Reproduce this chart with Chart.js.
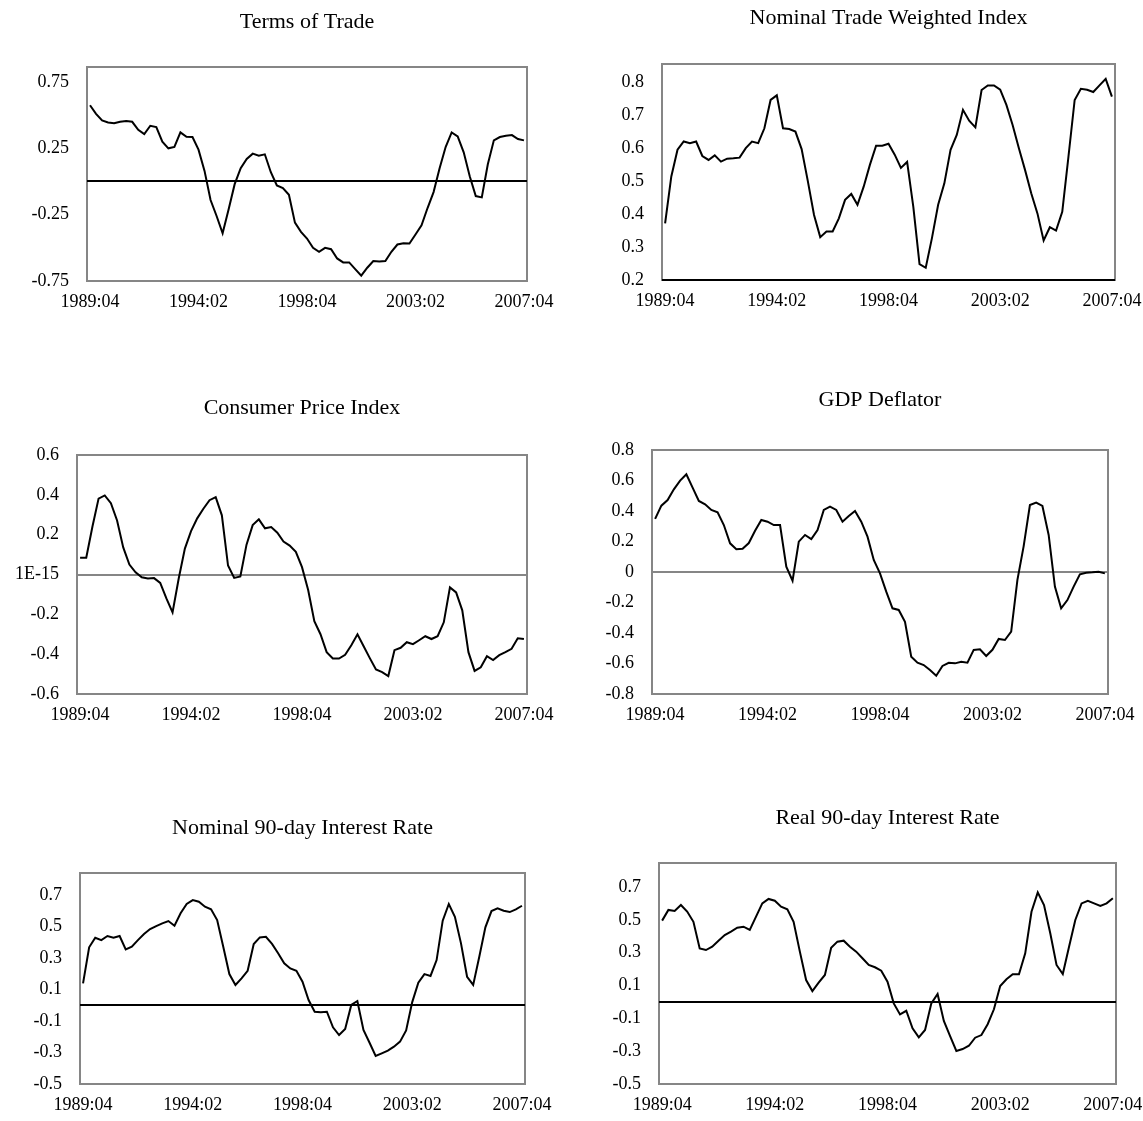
<!DOCTYPE html>
<html>
<head>
<meta charset="utf-8">
<script src="https://cdn.jsdelivr.net/npm/chart.js@4.4.1/dist/chart.umd.min.js"></script>
<style>
  html, body { margin: 0; padding: 0; background: #fff; overflow: hidden; }
  canvas.panel { position: absolute; }
</style>
</head>
<body>
<script>
// quarterly categories 1989:04 .. 2007:04
const quarters = [];
for (let y = 1989; y <= 2007; y++) {
  for (let q = 1; q <= 4; q++) {
    if (y === 1989 && q < 4) continue;
    quarters.push(y + ':0' + q);
  }
}
const shownLabels = ['1989:04', '1994:02', '1998:04', '2003:02', '2007:04'];

const termsOfTrade = [
  0.575, 0.51, 0.46, 0.445, 0.44, 0.45, 0.455, 0.45, 0.39, 0.357,
  0.42, 0.41, 0.30, 0.25, 0.26, 0.37, 0.337, 0.335, 0.24, 0.08,
  -0.14, -0.26, -0.39, -0.21, -0.02, 0.10, 0.17, 0.21, 0.195, 0.205,
  0.07, -0.03, -0.05, -0.10, -0.31, -0.38, -0.43, -0.50, -0.53, -0.50,
  -0.51, -0.58, -0.61, -0.61, -0.66, -0.71, -0.65, -0.60, -0.603, -0.60,
  -0.53, -0.475, -0.465, -0.468, -0.40, -0.33, -0.20, -0.08, 0.10, 0.26,
  0.37, 0.34, 0.22, 0.04, -0.11, -0.12, 0.13, 0.31, 0.335, 0.345,
  0.35, 0.32, 0.31
];
const tradeWeighted = [
  0.372, 0.514, 0.595, 0.62, 0.615, 0.62, 0.576, 0.564, 0.578, 0.559,
  0.568, 0.569, 0.571, 0.60, 0.62, 0.615, 0.66, 0.746, 0.76, 0.66,
  0.658, 0.65, 0.597, 0.50, 0.397, 0.33, 0.347, 0.347, 0.387, 0.443,
  0.461, 0.428, 0.483, 0.549, 0.607, 0.607, 0.613, 0.58, 0.54, 0.558,
  0.422, 0.248, 0.237, 0.327, 0.428, 0.493, 0.595, 0.64, 0.716, 0.683,
  0.663, 0.776, 0.79, 0.79, 0.777, 0.731, 0.67, 0.60, 0.534, 0.463,
  0.402, 0.32, 0.36, 0.35, 0.407, 0.574, 0.746, 0.78, 0.777, 0.77,
  0.79, 0.81, 0.756
];
const consumerPrices = [
  0.084, 0.084, 0.24, 0.381, 0.397, 0.358, 0.271, 0.136, 0.05, 0.011,
  -0.014, -0.02, -0.018, -0.042, -0.12, -0.19, -0.02, 0.13, 0.218, 0.282,
  0.33, 0.373, 0.388, 0.297, 0.045, -0.017, -0.01, 0.15, 0.248, 0.277,
  0.232, 0.238, 0.21, 0.165, 0.145, 0.114, 0.037, -0.078, -0.234, -0.30,
  -0.39, -0.422, -0.422, -0.403, -0.355, -0.30, -0.36, -0.42, -0.477, -0.49,
  -0.51, -0.38, -0.368, -0.34, -0.35, -0.33, -0.31, -0.324, -0.31, -0.24,
  -0.065, -0.09, -0.18, -0.39, -0.484, -0.466, -0.41, -0.43, -0.405, -0.39,
  -0.373, -0.32, -0.324
];
const gdpDeflator = [
  0.348, 0.435, 0.472, 0.542, 0.599, 0.641, 0.553, 0.466, 0.444, 0.407,
  0.391, 0.308, 0.188, 0.149, 0.153, 0.19, 0.27, 0.341, 0.33, 0.308,
  0.308, 0.035, -0.057, 0.199, 0.243, 0.216, 0.275, 0.407, 0.428, 0.407,
  0.33, 0.367, 0.40, 0.33, 0.232, 0.079, -0.009, -0.129, -0.238, -0.249,
  -0.326, -0.555, -0.595, -0.61, -0.643, -0.68, -0.616, -0.595, -0.599, -0.588,
  -0.595, -0.511, -0.507, -0.551, -0.51, -0.439, -0.446, -0.391, -0.052, 0.17,
  0.439, 0.455, 0.433, 0.243, -0.096, -0.238, -0.184, -0.096, -0.015, -0.005,
  -0.002, 0.002, -0.009
];
const nominalRate = [
  0.139, 0.368, 0.429, 0.414, 0.44, 0.429, 0.44, 0.355, 0.372, 0.414,
  0.452, 0.484, 0.503, 0.52, 0.535, 0.505, 0.584, 0.643, 0.668, 0.658,
  0.626, 0.609, 0.541, 0.372, 0.198, 0.129, 0.171, 0.219, 0.389, 0.431,
  0.435, 0.39, 0.33, 0.266, 0.234, 0.219, 0.15, 0.033, -0.041, -0.045,
  -0.041, -0.14, -0.189, -0.151, 0.002, 0.027, -0.157, -0.238, -0.322, -0.305,
  -0.288, -0.263, -0.231, -0.16, 0.02, 0.143, 0.198, 0.186, 0.287, 0.537,
  0.643, 0.562, 0.393, 0.181, 0.129, 0.308, 0.495, 0.598, 0.615, 0.60,
  0.592, 0.609, 0.632
];
const realRate = [
  0.495, 0.56, 0.554, 0.59, 0.55, 0.488, 0.326, 0.316, 0.336, 0.373,
  0.407, 0.428, 0.452, 0.458, 0.438, 0.519, 0.60, 0.627, 0.616, 0.58,
  0.564, 0.488, 0.306, 0.133, 0.066, 0.117, 0.164, 0.33, 0.367, 0.373,
  0.336, 0.306, 0.266, 0.225, 0.211, 0.19, 0.123, -0.009, -0.076, -0.054,
  -0.161, -0.216, -0.171, -0.009, 0.048, -0.116, -0.208, -0.299, -0.287, -0.267,
  -0.218, -0.202, -0.136, -0.045, 0.097, 0.138, 0.168, 0.168, 0.296, 0.549,
  0.667, 0.59, 0.418, 0.225, 0.17, 0.336, 0.499, 0.60, 0.616, 0.60,
  0.584, 0.60, 0.631
];

const totTicks = [-0.75, -0.25, 0.25, 0.75];
const twiTicks = [0.2, 0.3, 0.4, 0.5, 0.6, 0.7, 0.8];
const cpiTicks = [-0.6, -0.4, -0.2, 0, 0.2, 0.4, 0.6];
const gdpTicks = [-0.8, -0.6, -0.4, -0.2, 0, 0.2, 0.4, 0.6, 0.8];
const rateTicks = [-0.5, -0.3, -0.1, 0.1, 0.3, 0.5, 0.7];

const GRAY = '#868686';
const LEFT = 75, TOP = 60, RIGHT = 40, BOTTOM = 35;
const TICK_SIZE = 18, TITLE_SIZE = 22;

Chart.defaults.font.family = '"Liberation Serif", "DejaVu Serif", serif';
Chart.defaults.color = '#000';

const panels = [
  { title: 'Terms of Trade', data: termsOfTrade, box: [87, 67, 527, 281], titleGap: 45,
    min: -0.75, max: 0.863, ticks: totTicks, dec: 2, axisAt: 0, axisColor: '#000' },
  { title: 'Nominal Trade Weighted Index', data: tradeWeighted, box: [662, 64, 1115, 280], titleGap: 46,
    min: 0.2, max: 0.855, ticks: twiTicks, dec: 1, axisAt: 0.2, axisColor: '#000' },
  { title: 'Consumer Price Index', data: consumerPrices, box: [77, 455, 527, 694], titleGap: 47,
    min: -0.6, max: 0.6, ticks: cpiTicks, dec: 1, zeroText: '1E-15', axisAt: 0, axisColor: GRAY },
  { title: 'GDP Deflator', data: gdpDeflator, box: [652, 450, 1108, 694], titleGap: 50,
    min: -0.8, max: 0.8, ticks: gdpTicks, dec: 1, zeroText: '0', axisAt: 0, axisColor: GRAY },
  { title: 'Nominal 90-day Interest Rate', data: nominalRate, box: [80, 873, 525, 1084], titleGap: 45,
    min: -0.5, max: 0.84, ticks: rateTicks, dec: 1, axisAt: 0, axisColor: '#000' },
  { title: 'Real 90-day Interest Rate', data: realRate, box: [659, 863, 1116, 1084], titleGap: 45,
    min: -0.5, max: 0.846, ticks: rateTicks, dec: 1, axisAt: 0, axisColor: '#000' }
];

// grey frame round the plot area, drawn under the axis line and the series
const plotFrame = {
  id: 'plotFrame',
  beforeDraw(chart) {
    const { ctx, chartArea: a } = chart;
    ctx.save();
    ctx.strokeStyle = GRAY;
    ctx.lineWidth = 2;
    ctx.strokeRect(a.left, a.top, a.right - a.left, a.bottom - a.top);
    ctx.restore();
  }
};

function makePanel(p) {
  const w = p.box[2] - p.box[0] + LEFT + RIGHT;
  const h = p.box[3] - p.box[1] + TOP + BOTTOM;
  const canvas = document.createElement('canvas');
  canvas.className = 'panel';
  canvas.width = w;
  canvas.height = h;
  canvas.style.left = (p.box[0] - LEFT) + 'px';
  canvas.style.top = (p.box[1] - TOP) + 'px';
  canvas.style.width = w + 'px';
  canvas.style.height = h + 'px';
  document.body.appendChild(canvas);

  const tickValues = p.ticks.includes(p.axisAt) ? p.ticks.slice() : p.ticks.concat([p.axisAt]);
  tickValues.sort((a, b) => a - b);
  const half = TITLE_SIZE * 1.2 / 2;

  return new Chart(canvas, {
    type: 'line',
    data: {
      labels: quarters,
      datasets: [{
        data: p.data,
        borderColor: '#000',
        borderWidth: 2,
        pointRadius: 0,
        tension: 0,
        fill: false
      }]
    },
    options: {
      responsive: false,
      animation: false,
      events: [],
      layout: { padding: { left: 0, top: 0, right: RIGHT, bottom: 0 } },
      plugins: {
        legend: { display: false },
        tooltip: { enabled: false },
        title: {
          display: true,
          text: p.title,
          fullSize: false,
          font: { size: TITLE_SIZE, weight: 'normal' },
          color: '#000',
          padding: { top: TOP - p.titleGap - half, bottom: p.titleGap - half }
        }
      },
      scales: {
        x: {
          offset: true,
          grid: { display: false, drawTicks: false },
          border: { display: false },
          ticks: {
            autoSkip: false,
            maxRotation: 0,
            minRotation: 0,
            padding: 10,
            font: { size: TICK_SIZE },
            callback: function (v) {
              const lab = this.getLabelForValue(v);
              return shownLabels.includes(lab) ? lab : '';
            }
          },
          afterFit: (s) => { s.height = BOTTOM; }
        },
        y: {
          min: p.min,
          max: p.max,
          grid: {
            drawTicks: false,
            lineWidth: 2,
            color: (c) => (c.tick && Math.abs(c.tick.value - p.axisAt) < 1e-9) ? p.axisColor : 'rgba(0,0,0,0)'
          },
          border: { display: false },
          ticks: {
            padding: 18,
            font: { size: TICK_SIZE },
            callback: (v) => {
              if (!p.ticks.includes(v)) return '';
              if (v === 0 && p.zeroText) return p.zeroText;
              return v.toFixed(p.dec);
            }
          },
          afterBuildTicks: (s) => { s.ticks = tickValues.map((v) => ({ value: v })); },
          afterFit: (s) => { s.width = LEFT; }
        }
      }
    },
    plugins: [plotFrame]
  });
}

panels.forEach(makePanel);
</script>
</body>
</html>
